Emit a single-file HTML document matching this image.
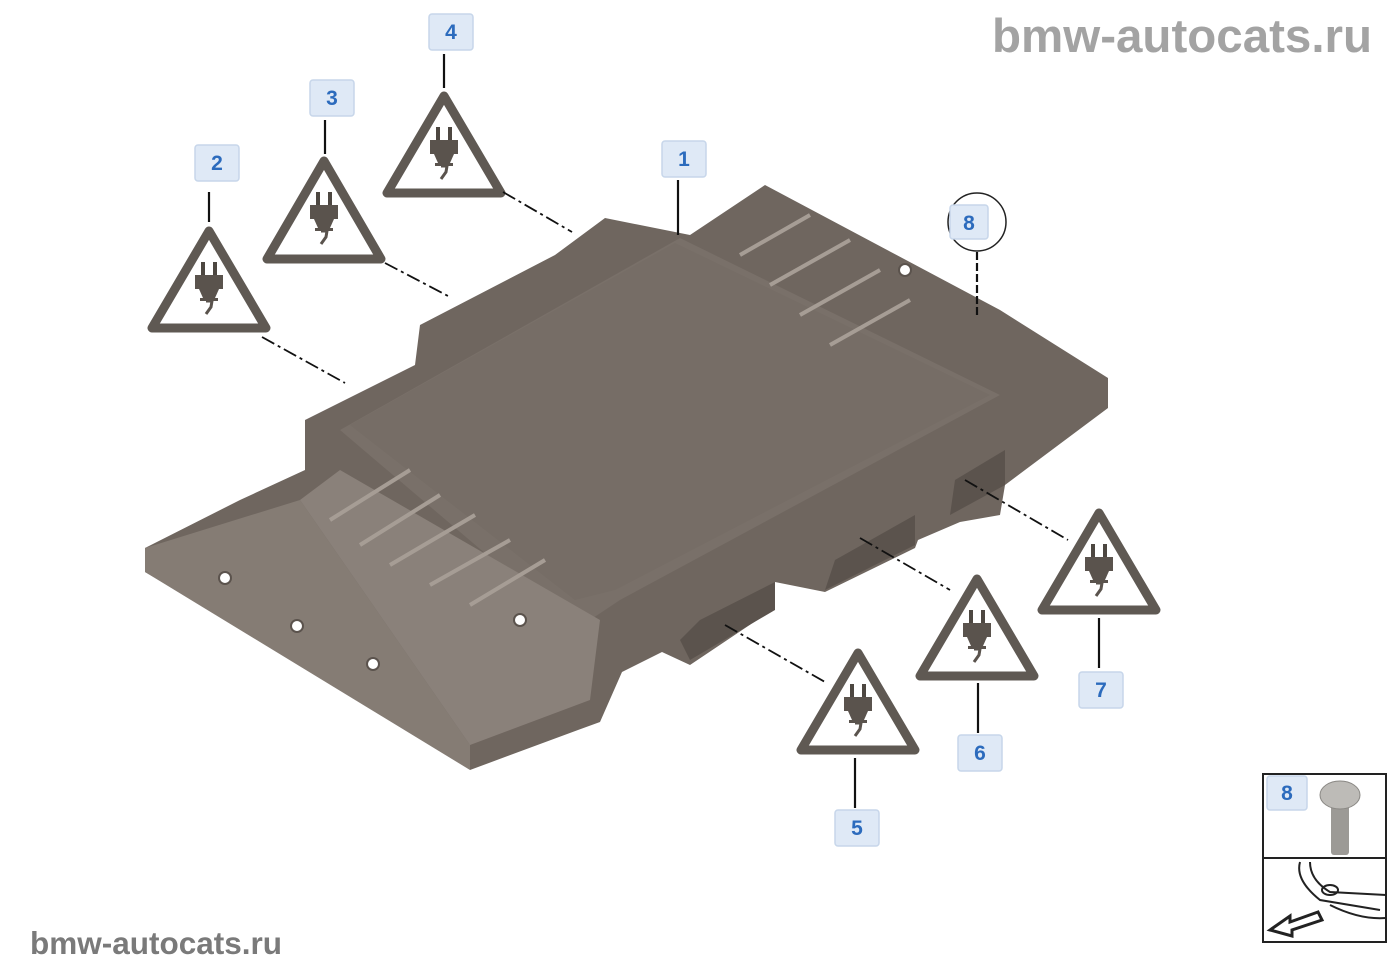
<!DOCTYPE html>
<html><head><meta charset="utf-8"><style>
html,body{margin:0;padding:0;background:#fff;width:1400px;height:980px;overflow:hidden}
svg{display:block}
.lb rect{fill:#dfe9f6;stroke:#c7d6ea;stroke-width:1.5}
.lb text{font-family:"Liberation Sans",sans-serif;font-weight:bold;font-size:21px;fill:#2c6bbd;text-anchor:middle}
.tri{fill:#fff;stroke:#5f5953;stroke-width:9;stroke-linejoin:round}
.ld{stroke:#111;stroke-width:2.2}
.dd{stroke:#111;stroke-width:1.8;stroke-dasharray:14 4 3 4}
</style></head><body>
<svg width="1400" height="980" viewBox="0 0 1400 980">
<defs>
<g id="plug">
<rect x="-8" y="-30" width="4" height="14" fill="#4d4741"/>
<rect x="4" y="-30" width="4" height="14" fill="#4d4741"/>
<rect x="-14" y="-17" width="28" height="14" fill="#5a534d"/>
<path d="M-10,-3 L10,-3 L6,6 L-6,6Z" fill="#5a534d"/>
<rect x="-9" y="6" width="18" height="3" fill="#5a534d"/>
<path d="M-3,9 L3,9 L2,15 L-3,22" stroke="#5a534d" stroke-width="3" fill="none"/>
</g>
</defs>
<!-- ECU body -->
<polygon points="145,548 240,500 305,470 305,420 415,365 420,325 555,255 605,218 690,235 765,185 1000,310 1108,378 1108,408 1025,470 1005,485 1000,515 960,522 918,540 915,548 825,592 775,582 772,610 690,665 662,652 622,672 600,722 578,730 470,770 470,745 430,722 300,662 145,572" fill="#6f665f"/>
<polygon points="340,430 680,238 1000,395 620,600 560,640 540,600" fill="#797069"/>
<polygon points="350,425 675,243 990,395 615,590 575,600" fill="#766d66"/>
<polygon points="145,548 300,500 470,745 470,770 145,572" fill="#857c74"/>
<polygon points="300,500 340,470 600,620 590,700 470,745" fill="#8a817a"/>
<g stroke="#a69d95" stroke-width="4" fill="none">
<line x1="330" y1="520" x2="410" y2="470"/><line x1="360" y1="545" x2="440" y2="495"/><line x1="390" y1="565" x2="475" y2="515"/><line x1="430" y1="585" x2="510" y2="540"/><line x1="470" y1="605" x2="545" y2="560"/>
<line x1="740" y1="255" x2="810" y2="215"/><line x1="770" y1="285" x2="850" y2="240"/><line x1="800" y1="315" x2="880" y2="270"/><line x1="830" y1="345" x2="910" y2="300"/>
</g>
<g fill="#5b534d">
<polygon points="690,660 775,610 775,582 700,620 680,640"/>
<polygon points="825,590 915,545 915,515 835,560"/>
<polygon points="950,515 1005,485 1005,450 955,480"/>
</g>
<g fill="#fff" stroke="#5b534d" stroke-width="2">
<circle cx="225" cy="578" r="6"/><circle cx="297" cy="626" r="6"/><circle cx="373" cy="664" r="6"/><circle cx="520" cy="620" r="6"/><circle cx="905" cy="270" r="6"/>
</g>
<!-- triangles -->
<g>
<polygon class="tri" points="209,231 152,328 266,328"/><use href="#plug" x="209" y="292"/>
<polygon class="tri" points="324,161 267,259 381,259"/><use href="#plug" x="324" y="222"/>
<polygon class="tri" points="444,96 387,193 501,193"/><use href="#plug" x="444" y="157"/>
<polygon class="tri" points="858,653 801,750 915,750"/><use href="#plug" x="858" y="714"/>
<polygon class="tri" points="977,579 920,676 1034,676"/><use href="#plug" x="977" y="640"/>
<polygon class="tri" points="1099,513 1042,610 1156,610"/><use href="#plug" x="1099" y="574"/>
</g>
<!-- leaders -->
<line class="ld" x1="209" y1="192" x2="209" y2="222"/>
<line class="ld" x1="325" y1="120" x2="325" y2="154"/>
<line class="ld" x1="444" y1="54" x2="444" y2="88"/>
<line class="ld" x1="678" y1="180" x2="678" y2="235"/>
<line class="ld" x1="977" y1="252" x2="977" y2="318" stroke-dasharray="8 3"/>
<line class="ld" x1="855" y1="758" x2="855" y2="808"/>
<line class="ld" x1="978" y1="683" x2="978" y2="733"/>
<line class="ld" x1="1099" y1="618" x2="1099" y2="668"/>
<line class="dd" x1="262" y1="337" x2="345" y2="383"/>
<line class="dd" x1="385" y1="263" x2="448" y2="296"/>
<line class="dd" x1="503" y1="192" x2="572" y2="232"/>
<line class="dd" x1="725" y1="625" x2="825" y2="682"/>
<line class="dd" x1="860" y1="538" x2="950" y2="590"/>
<line class="dd" x1="965" y1="480" x2="1068" y2="540"/>
<!-- labels -->
<g class="lb">
<rect x="195" y="145" width="44" height="36" rx="3"/><text x="217" y="170">2</text>
<rect x="310" y="80" width="44" height="36" rx="3"/><text x="332" y="105">3</text>
<rect x="429" y="14" width="44" height="36" rx="3"/><text x="451" y="39">4</text>
<rect x="662" y="141" width="44" height="36" rx="3"/><text x="684" y="166">1</text>
<rect x="835" y="810" width="44" height="36" rx="3"/><text x="857" y="835">5</text>
<rect x="958" y="735" width="44" height="36" rx="3"/><text x="980" y="760">6</text>
<rect x="1079" y="672" width="44" height="36" rx="3"/><text x="1101" y="697">7</text>
<circle cx="977" cy="222" r="29" fill="#fff" stroke="#222" stroke-width="1.5"/>
<rect x="950" y="205" width="38" height="34" rx="3"/><text x="969" y="230">8</text>
<rect x="1267" y="776" width="40" height="34" rx="3"/><text x="1287" y="800">8</text>
</g>
<!-- inset -->
<rect x="1263" y="774" width="123" height="168" fill="none" stroke="#222" stroke-width="2"/>
<line x1="1263" y1="858" x2="1386" y2="858" stroke="#222" stroke-width="2"/>
<rect x="1331" y="800" width="18" height="55" rx="3" fill="#9c9a96"/>
<ellipse cx="1340" cy="795" rx="20" ry="14" fill="#bdbbb7" stroke="#8a8884"/>
<g fill="none" stroke="#222" stroke-width="2">
<path d="M1300,862 Q1295,880 1320,900 L1380,910 M1310,862 Q1310,880 1330,892 L1386,895 M1330,905 Q1360,920 1386,918"/>
<ellipse cx="1330" cy="890" rx="8" ry="5"/>
<path d="M1318,912 L1290,922 L1290,916 L1270,930 L1292,936 L1292,930 L1322,920Z" fill="#fff" stroke-width="3"/>
</g>
<!-- watermarks -->
<text x="992" y="52" font-family="Liberation Sans,sans-serif" font-weight="bold" font-size="47.5" fill="#a3a3a3">bmw-autocats.ru</text>
<text x="30" y="954" font-family="Liberation Sans,sans-serif" font-weight="bold" font-size="31.5" fill="#7a7a7a">bmw-autocats.ru</text>
</svg>
</body></html>
